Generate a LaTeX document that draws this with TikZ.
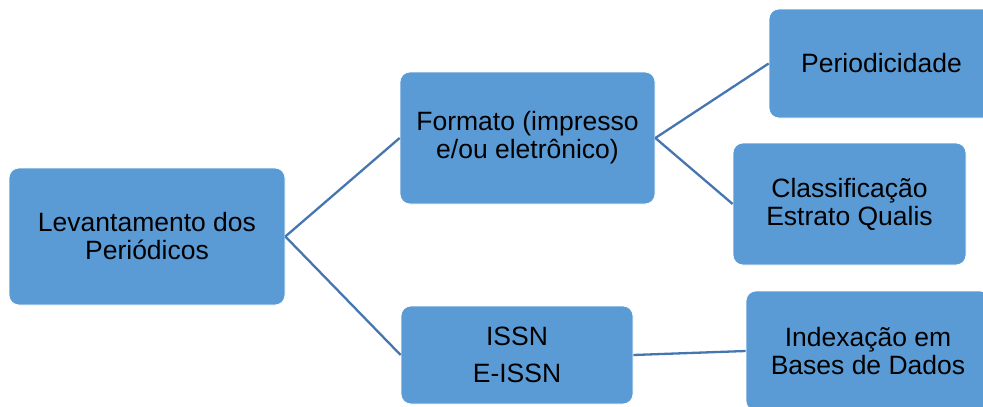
\documentclass[tikz,border=0pt]{standalone}
\usepackage{fontspec}
\setmainfont{Liberation Sans}
\definecolor{boxfill}{RGB}{91,155,213}
\definecolor{linkblue}{RGB}{70,118,176}
\begin{document}
\begin{tikzpicture}[x=1pt,y=-1pt,
  box/.style={rectangle, rounded corners=10pt, fill=boxfill, draw=white,
    line width=0.7pt, align=center, inner sep=0pt,
    font=\fontsize{26.5}{28}\selectfont},
  link/.style={draw=linkblue, line width=2.3pt}]
\useasboundingbox (0,0) rectangle (983,407);
\clip (0,0) rectangle (983,407);

% hierarchy boxes
\node[box, minimum width=276pt, minimum height=137pt] (lev) at (147,236.5)
  {Levantamento dos\\Periódicos};
\node[box, minimum width=255pt, minimum height=132pt] (fmt) at (527.5,138)
  {Formato (impresso\\e/ou eletrônico)};
\node[box, minimum width=232pt, minimum height=98pt] (issn) at (517,355)
  {ISSN\\[9.7pt]E-ISSN};
\node[box, minimum width=225pt, minimum height=109pt] (per) at (881.5,63.5)
  {Periodicidade};
\node[box, minimum width=233pt, minimum height=122pt] (cls) at (849.5,204)
  {Classificação\\Estrato Qualis};
\node[box, minimum width=244pt, minimum height=120pt] (idx) at (868,351)
  {Indexação em\\Bases de Dados};

% connectors
\draw[link] (lev.east) -- (fmt.west);
\draw[link] (lev.east) -- (issn.west);
\draw[link] (fmt.east) -- (per.west);
\draw[link] (fmt.east) -- (cls.west);
\draw[link] (issn.east) -- (idx.west);
\end{tikzpicture}
\end{document}
